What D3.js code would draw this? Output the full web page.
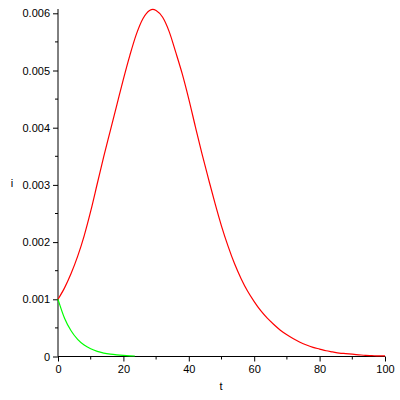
<!DOCTYPE html>
<html><head><meta charset="utf-8">
<script src="https://cdn.jsdelivr.net/npm/d3@7/dist/d3.min.js"></script>
<style>body{margin:0;background:#fff;}svg{display:block;}</style>
</head><body>
<svg id="chart" width="400" height="400"></svg>
<script>
// Red curve (t, i)
const redT = [0,2,4,6,8,10,12,14,16,18,20,22,24,26,28,29,30,32,34,36,38,40,42,44,46,48,50,52,54,56,58,60,62,64,66,68,70,72,74,76,78,80,82,84,86,88,90,92,94,96,98,100];
const redI = [0.001,0.0012,0.00145,0.00175,0.00211,0.00254,0.00302,0.0035,0.00395,0.0044,0.00485,0.00527,0.00564,0.00591,0.00605,0.00607,0.00605,0.00593,0.00568,0.00532,0.00494,0.0045,0.00402,0.00355,0.00311,0.00268,0.00228,0.00193,0.00162,0.00136,0.00114,0.00096,0.0008,0.00067,0.00056,0.00046,0.00038,0.00031,0.00025,0.0002,0.00016,0.00013,0.0001,0.00008,0.00006,0.00005,0.00004,0.00003,0.00002,0.000015,0.00001,0.00001];
// Green curve (t, i)
const greenT = [0,2,4,6,8,10,12,14,16,18,20,22,23.5];
const greenI = [0.001,0.00067,0.00045,0.0003,0.0002,0.000135,0.00009,0.00006,0.00004,0.000027,0.000018,0.000012,0.000009];
const xTicks = [0,20,40,60,80,100];
const xMinor = [10,30,50,70,90];
const yTicks = [0,0.001,0.002,0.003,0.004,0.005,0.006];
const yMinor = [0.0005,0.0015,0.0025,0.0035,0.0045,0.0055];

const svg = d3.select("#chart");
const x = d3.scaleLinear().domain([0,100]).range([58,385]);
const y = d3.scaleLinear().domain([0,0.006]).range([356.5,13.3]);
const font = "'Liberation Sans', Arial, sans-serif";

const xAxis = d3.axisBottom(x).tickValues(xTicks).tickFormat(d3.format("d")).tickSize(5).tickSizeOuter(0);
const gx = svg.append("g").attr("transform","translate(0,356.5)").call(xAxis);
gx.select(".domain").attr("d","M58,0H385");
gx.selectAll("text").attr("font-family",font).attr("font-size",11).attr("dy","0.75em").attr("y",8);
gx.selectAll(".minor").data(xMinor).enter().append("line").attr("class","minor")
  .attr("x1",d=>x(d)).attr("x2",d=>x(d)).attr("y1",0).attr("y2",3).attr("stroke","#000");

const yAxis = d3.axisLeft(y).tickValues(yTicks).tickFormat(d=>d===0?"0":d3.format(".3f")(d)).tickSize(5).tickSizeOuter(0);
const gy = svg.append("g").attr("transform","translate(58,0)").call(yAxis);
gy.select(".domain").attr("d","M0,9V356.5");
gy.selectAll("text").attr("font-family",font).attr("font-size",11).attr("x",-8);
gy.selectAll(".minor").data(yMinor).enter().append("line").attr("class","minor")
  .attr("x1",-3).attr("x2",0).attr("y1",d=>y(d)).attr("y2",d=>y(d)).attr("stroke","#000");
svg.selectAll(".domain, .tick line").attr("stroke","#000");

const line = d3.line().x(d=>x(d[0])).y(d=>y(d[1])).curve(d3.curveMonotoneX);
svg.append("path").datum(redT.map((t,k)=>[t,redI[k]])).attr("d",line)
  .attr("fill","none").attr("stroke","#ff0000").attr("stroke-width",1.2);
svg.append("path").datum(greenT.map((t,k)=>[t,greenI[k]])).attr("d",line)
  .attr("fill","none").attr("stroke","#00ff00").attr("stroke-width",1.2);

svg.append("text").attr("x",221).attr("y",390).attr("text-anchor","middle")
  .attr("font-family",font).attr("font-size",11).text("t");
svg.append("text").attr("x",12).attr("y",187).attr("text-anchor","middle")
  .attr("font-family",font).attr("font-size",11).text("i");
</script>
</body></html>
